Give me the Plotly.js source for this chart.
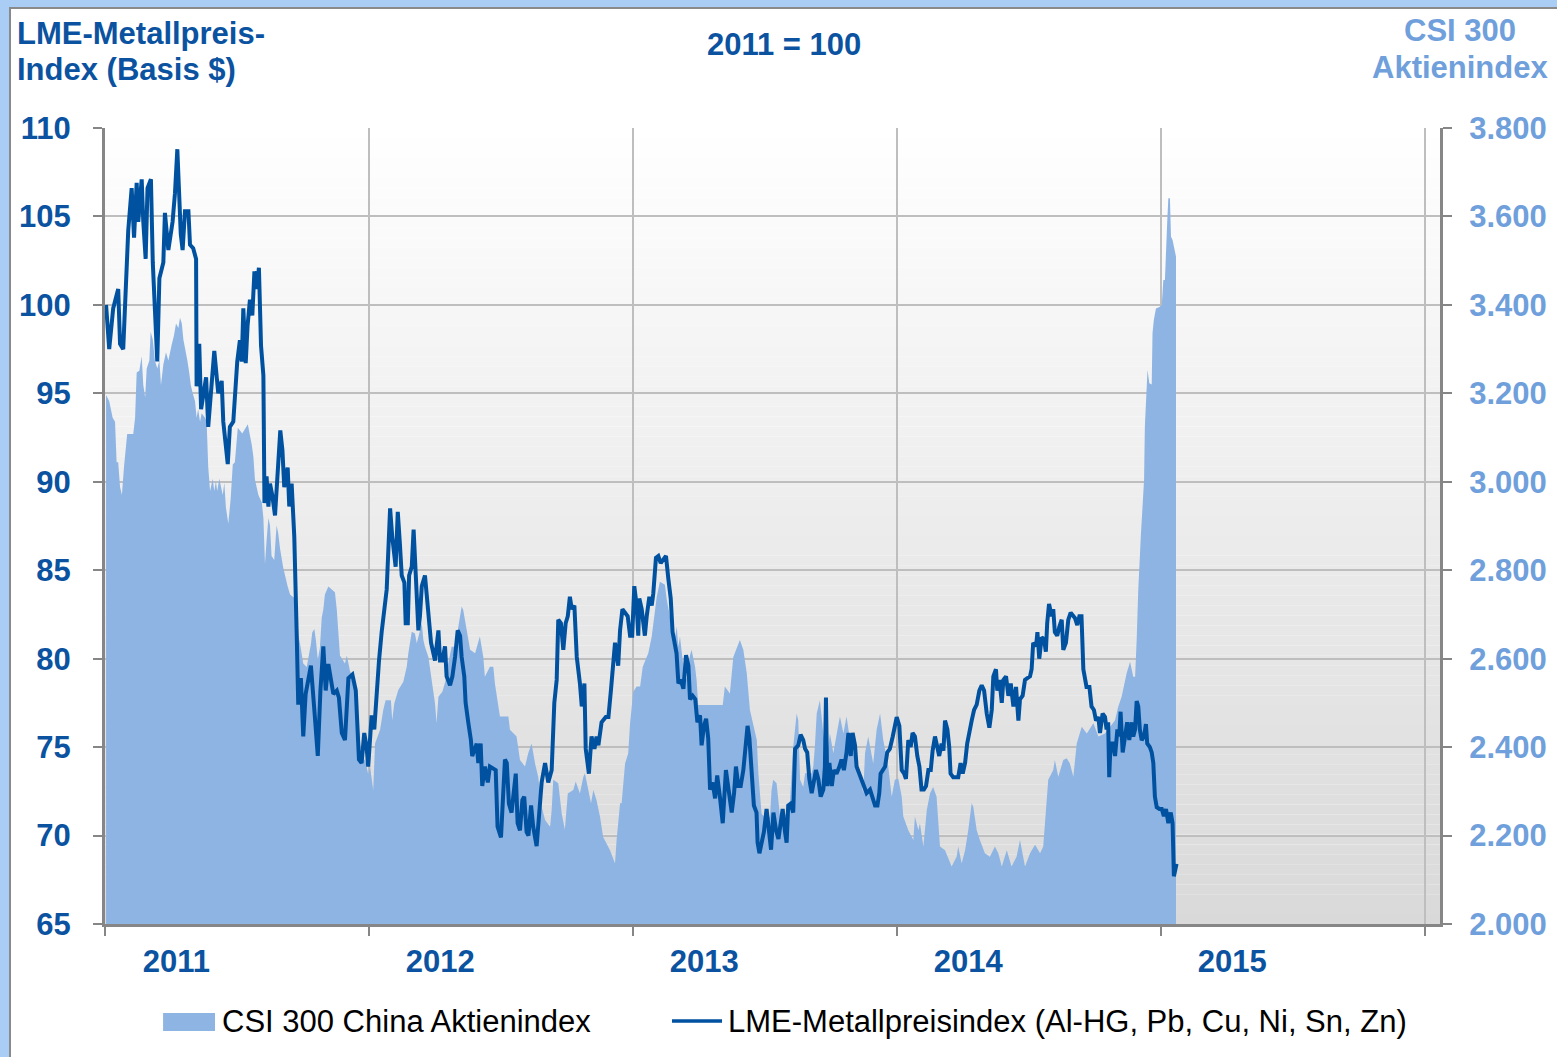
<!DOCTYPE html>
<html><head><meta charset="utf-8">
<script src="https://cdn.plot.ly/plotly-3.0.1.min.js"></script>
<style>
html,body{margin:0;padding:0;width:1557px;height:1057px;overflow:hidden;background:#A9CDF5;}
#frame{position:absolute;left:9px;top:7px;width:1548px;height:1050px;background:#fff;border-left:2px solid #8a8a8a;border-top:2px solid #8a8a8a;box-sizing:border-box;}
#chart{position:absolute;left:0;top:0;width:1557px;height:1057px;}
</style></head><body><div id="frame"></div><div id="chart"></div>
<script>
// Year tick labels and year boundaries
const yearLabels = ['2011','2012','2013','2014','2015'];
const yearStarts = [2011,2012,2013,2014,2015,2016];

// Series names (legend)
const seriesNames = ['CSI 300 China Aktienindex', 'LME-Metallpreisindex (Al-HG, Pb, Cu, Ni, Sn, Zn)'];

// CSI 300 China Aktienindex (right axis) – x in fractional years
const csiX = [2011.004,2011.016,2011.029,2011.038,2011.044,2011.050,2011.057,2011.064,2011.072,2011.080,2011.084,2011.107,2011.114,2011.120,2011.130,2011.139,2011.145,2011.152,2011.158,2011.168,2011.173,2011.181,2011.189,2011.198,2011.206,2011.212,2011.221,2011.231,2011.240,2011.253,2011.261,2011.269,2011.278,2011.284,2011.291,2011.297,2011.307,2011.312,2011.319,2011.325,2011.332,2011.341,2011.347,2011.353,2011.360,2011.366,2011.379,2011.385,2011.391,2011.398,2011.408,2011.414,2011.420,2011.425,2011.433,2011.446,2011.452,2011.458,2011.467,2011.476,2011.484,2011.492,2011.503,2011.520,2011.541,2011.549,2011.556,2011.562,2011.568,2011.581,2011.594,2011.600,2011.606,2011.612,2011.619,2011.625,2011.631,2011.641,2011.650,2011.656,2011.663,2011.675,2011.684,2011.692,2011.701,2011.717,2011.722,2011.730,2011.739,2011.745,2011.751,2011.764,2011.780,2011.785,2011.793,2011.799,2011.806,2011.814,2011.821,2011.827,2011.833,2011.846,2011.871,2011.878,2011.884,2011.890,2011.909,2011.916,2011.928,2011.941,2011.947,2011.953,2011.959,2011.966,2011.972,2011.985,2011.997,2012.004,2012.016,2012.023,2012.042,2012.054,2012.063,2012.083,2012.088,2012.096,2012.111,2012.130,2012.143,2012.149,2012.162,2012.174,2012.181,2012.193,2012.200,2012.206,2012.212,2012.225,2012.238,2012.250,2012.256,2012.263,2012.278,2012.294,2012.300,2012.313,2012.326,2012.338,2012.351,2012.357,2012.370,2012.383,2012.402,2012.420,2012.433,2012.439,2012.458,2012.471,2012.477,2012.490,2012.496,2012.528,2012.534,2012.559,2012.572,2012.591,2012.603,2012.616,2012.629,2012.641,2012.654,2012.667,2012.686,2012.692,2012.698,2012.717,2012.730,2012.742,2012.753,2012.774,2012.783,2012.799,2012.812,2012.818,2012.831,2012.841,2012.850,2012.862,2012.875,2012.887,2012.913,2012.925,2012.932,2012.938,2012.951,2012.957,2012.970,2012.982,2012.989,2013.001,2013.014,2013.027,2013.037,2013.052,2013.058,2013.071,2013.077,2013.090,2013.102,2013.121,2013.128,2013.140,2013.153,2013.166,2013.172,2013.178,2013.191,2013.203,2013.216,2013.222,2013.235,2013.241,2013.247,2013.340,2013.348,2013.367,2013.380,2013.405,2013.418,2013.431,2013.443,2013.456,2013.469,2013.475,2013.481,2013.487,2013.506,2013.519,2013.525,2013.531,2013.544,2013.557,2013.569,2013.582,2013.595,2013.607,2013.620,2013.626,2013.633,2013.645,2013.652,2013.677,2013.683,2013.689,2013.696,2013.708,2013.721,2013.734,2013.746,2013.759,2013.772,2013.784,2013.797,2013.809,2013.822,2013.841,2013.860,2013.872,2013.879,2013.891,2013.910,2013.923,2013.936,2013.948,2013.967,2013.980,2013.992,2014.005,2014.018,2014.024,2014.043,2014.062,2014.068,2014.081,2014.087,2014.100,2014.113,2014.125,2014.137,2014.150,2014.156,2014.163,2014.182,2014.207,2014.226,2014.232,2014.245,2014.258,2014.270,2014.283,2014.289,2014.302,2014.314,2014.333,2014.352,2014.371,2014.384,2014.397,2014.416,2014.434,2014.453,2014.466,2014.485,2014.504,2014.523,2014.542,2014.554,2014.561,2014.567,2014.573,2014.592,2014.598,2014.611,2014.630,2014.643,2014.655,2014.668,2014.681,2014.700,2014.719,2014.744,2014.763,2014.788,2014.807,2014.826,2014.838,2014.851,2014.870,2014.883,2014.895,2014.902,2014.908,2014.914,2014.924,2014.936,2014.939,2014.946,2014.949,2014.956,2014.965,2014.968,2014.973,2014.981,2014.996,2015.003,2015.009,2015.015,2015.019,2015.024,2015.028,2015.034,2015.038,2015.044,2015.049,2015.053,2015.057];
const csiY = [3196,3182,3145,3136,3044,3044,2988,2970,3034,3081,3108,3108,3145,3247,3251,3284,3219,3191,3256,3274,3339,3321,3274,3256,3274,3219,3265,3293,3274,3311,3330,3358,3348,3371,3358,3321,3293,3274,3247,3219,3201,3182,3145,3164,3136,3155,3145,3136,3034,2979,3007,2979,3002,2979,3007,2970,2998,2942,2905,2961,3039,3044,3122,3109,3130,3109,3083,3057,3005,2970,2953,2918,2814,2866,2918,2901,2832,2823,2901,2884,2849,2806,2780,2763,2745,2737,2693,2659,2633,2615,2589,2581,2633,2659,2667,2641,2598,2624,2693,2711,2745,2763,2750,2711,2659,2607,2589,2607,2572,2555,2520,2486,2468,2416,2364,2373,2338,2356,2303,2408,2439,2484,2506,2506,2461,2499,2529,2548,2582,2612,2661,2657,2635,2665,2680,2642,2627,2604,2552,2499,2454,2514,2525,2559,2589,2627,2627,2672,2718,2710,2665,2620,2612,2650,2604,2559,2582,2582,2544,2499,2469,2469,2439,2424,2371,2356,2386,2408,2363,2333,2265,2235,2220,2258,2326,2318,2250,2213,2295,2303,2322,2295,2333,2341,2303,2273,2303,2280,2243,2197,2167,2145,2137,2190,2273,2273,2363,2386,2454,2525,2537,2537,2582,2604,2612,2650,2680,2740,2774,2767,2733,2695,2627,2672,2627,2650,2582,2552,2608,2620,2582,2552,2495,2495,2537,2521,2604,2642,2620,2567,2484,2446,2416,2341,2295,2250,2235,2243,2303,2326,2318,2243,2258,2243,2280,2401,2476,2461,2326,2310,2341,2341,2356,2401,2476,2506,2431,2371,2431,2386,2431,2469,2431,2469,2416,2378,2341,2295,2386,2424,2363,2439,2476,2416,2356,2288,2326,2329,2288,2243,2212,2190,2243,2212,2228,2175,2258,2295,2310,2288,2228,2175,2167,2130,2152,2175,2137,2167,2212,2273,2265,2212,2190,2160,2152,2175,2160,2130,2167,2130,2152,2190,2130,2160,2179,2160,2175,2228,2288,2326,2348,2371,2333,2371,2375,2363,2333,2408,2446,2431,2454,2424,2431,2446,2461,2491,2514,2567,2593,2559,2559,2642,2755,2880,3004,3125,3200,3253,3223,3220,3336,3366,3392,3396,3400,3456,3456,3532,3592,3641,3641,3554,3547,3532,3517,3509];

// LME-Metallpreisindex (left axis, 2011 = 100)
const lmeX = [2011.004,2011.016,2011.031,2011.042,2011.050,2011.057,2011.069,2011.088,2011.101,2011.110,2011.120,2011.126,2011.139,2011.145,2011.154,2011.161,2011.174,2011.181,2011.198,2011.206,2011.221,2011.227,2011.240,2011.256,2011.265,2011.274,2011.287,2011.294,2011.303,2011.316,2011.322,2011.334,2011.345,2011.347,2011.357,2011.364,2011.383,2011.391,2011.414,2011.429,2011.442,2011.448,2011.465,2011.473,2011.486,2011.501,2011.511,2011.518,2011.524,2011.533,2011.540,2011.549,2011.558,2011.566,2011.575,2011.583,2011.591,2011.600,2011.604,2011.612,2011.619,2011.625,2011.634,2011.644,2011.654,2011.664,2011.672,2011.679,2011.692,2011.698,2011.707,2011.717,2011.726,2011.732,2011.742,2011.751,2011.760,2011.770,2011.780,2011.793,2011.806,2011.816,2011.827,2011.836,2011.846,2011.865,2011.878,2011.886,2011.897,2011.909,2011.922,2011.937,2011.950,2011.962,2011.972,2011.982,2011.991,2011.997,2012.010,2012.020,2012.029,2012.038,2012.048,2012.058,2012.067,2012.080,2012.088,2012.101,2012.109,2012.117,2012.124,2012.134,2012.139,2012.147,2012.152,2012.162,2012.169,2012.177,2012.187,2012.193,2012.200,2012.212,2012.225,2012.235,2012.250,2012.263,2012.269,2012.278,2012.288,2012.294,2012.307,2012.316,2012.326,2012.336,2012.345,2012.351,2012.361,2012.366,2012.376,2012.386,2012.391,2012.408,2012.414,2012.423,2012.429,2012.439,2012.450,2012.458,2012.480,2012.487,2012.500,2012.509,2012.515,2012.522,2012.530,2012.540,2012.556,2012.563,2012.572,2012.581,2012.588,2012.597,2012.604,2012.614,2012.622,2012.635,2012.641,2012.654,2012.667,2012.679,2012.692,2012.702,2012.711,2012.717,2012.727,2012.736,2012.745,2012.753,2012.761,2012.768,2012.778,2012.787,2012.799,2012.806,2012.816,2012.821,2012.833,2012.843,2012.854,2012.862,2012.869,2012.881,2012.897,2012.907,2012.917,2012.926,2012.932,2012.944,2012.951,2012.960,2012.980,2012.989,2012.997,2013.005,2013.014,2013.020,2013.024,2013.033,2013.045,2013.052,2013.062,2013.071,2013.077,2013.087,2013.096,2013.105,2013.115,2013.125,2013.134,2013.143,2013.150,2013.159,2013.165,2013.172,2013.181,2013.191,2013.201,2013.210,2013.216,2013.226,2013.236,2013.244,2013.254,2013.260,2013.269,2013.277,2013.285,2013.292,2013.302,2013.311,2013.319,2013.330,2013.340,2013.352,2013.361,2013.374,2013.383,2013.390,2013.399,2013.408,2013.418,2013.427,2013.434,2013.441,2013.450,2013.458,2013.468,2013.472,2013.479,2013.487,2013.496,2013.506,2013.516,2013.523,2013.532,2013.542,2013.551,2013.559,2013.567,2013.576,2013.582,2013.588,2013.597,2013.607,2013.614,2013.626,2013.635,2013.645,2013.652,2013.660,2013.668,2013.677,2013.686,2013.693,2013.702,2013.711,2013.721,2013.727,2013.731,2013.736,2013.744,2013.753,2013.761,2013.771,2013.782,2013.790,2013.799,2013.809,2013.816,2013.825,2013.832,2013.841,2013.847,2013.857,2013.875,2013.885,2013.898,2013.917,2013.926,2013.933,2013.938,2013.955,2013.963,2013.973,2013.984,2013.999,2014.009,2014.018,2014.027,2014.034,2014.043,2014.052,2014.059,2014.068,2014.077,2014.085,2014.093,2014.102,2014.110,2014.119,2014.128,2014.135,2014.144,2014.153,2014.160,2014.169,2014.176,2014.182,2014.191,2014.198,2014.203,2014.213,2014.232,2014.241,2014.249,2014.258,2014.266,2014.283,2014.292,2014.302,2014.312,2014.321,2014.330,2014.340,2014.350,2014.359,2014.365,2014.375,2014.380,2014.388,2014.397,2014.403,2014.413,2014.422,2014.431,2014.441,2014.451,2014.460,2014.466,2014.476,2014.485,2014.494,2014.504,2014.510,2014.516,2014.527,2014.532,2014.539,2014.548,2014.557,2014.564,2014.569,2014.576,2014.586,2014.592,2014.598,2014.607,2014.615,2014.624,2014.630,2014.640,2014.649,2014.658,2014.674,2014.683,2014.691,2014.699,2014.706,2014.712,2014.718,2014.729,2014.737,2014.746,2014.754,2014.763,2014.769,2014.779,2014.788,2014.794,2014.800,2014.804,2014.809,2014.817,2014.826,2014.835,2014.842,2014.847,2014.855,2014.864,2014.872,2014.880,2014.889,2014.895,2014.902,2014.908,2014.914,2014.920,2014.927,2014.936,2014.943,2014.948,2014.958,2014.965,2014.971,2014.977,2014.984,2014.994,2015.003,2015.011,2015.019,2015.028,2015.037,2015.044,2015.049,2015.059];
const lmeY = [100.0,97.5,99.8,100.5,100.9,97.8,97.5,104.2,106.6,103.8,106.9,104.7,107.1,104.7,102.6,106.6,107.1,102.4,96.8,101.5,102.4,105.2,103.1,104.7,106.3,108.8,104.0,103.1,105.3,105.3,103.4,103.2,102.6,95.4,97.8,94.1,95.9,93.1,97.4,95.0,95.7,93.4,91.0,93.1,93.4,96.8,98.0,96.8,99.8,96.7,98.8,100.3,99.4,101.9,100.9,102.1,97.7,96.0,88.8,90.3,88.6,89.9,89.2,88.1,90.5,92.9,91.8,89.7,90.8,88.6,89.9,86.9,81.5,77.4,78.9,75.6,78.0,78.9,79.6,77.1,74.5,78.2,80.7,78.2,79.7,78.0,78.2,77.8,75.8,75.4,78.9,79.1,78.2,74.3,74.1,75.8,75.0,73.9,76.8,76.0,78.4,79.9,81.5,82.8,83.9,88.5,86.9,85.2,88.3,86.5,84.7,84.3,82.0,82.0,84.7,85.2,87.3,84.8,81.6,82.4,84.1,84.7,82.4,80.9,79.9,81.6,79.9,79.9,80.7,79.0,78.5,79.0,80.1,81.6,81.3,80.1,79.0,77.5,76.4,75.4,74.5,75.2,74.1,75.2,72.8,73.9,73.0,73.9,73.7,70.5,69.9,72.6,74.3,74.1,71.8,71.3,73.5,70.7,70.3,72.0,72.2,70.2,70.0,71.7,70.5,69.4,70.7,73.0,74.1,73.0,73.7,77.5,78.8,82.2,82.0,80.5,82.0,82.4,83.5,82.8,83.0,80.1,78.6,77.3,78.6,74.9,73.5,75.6,74.9,75.6,75.1,76.4,76.7,76.7,78.3,79.8,80.9,79.6,81.6,82.8,82.4,81.3,81.3,84.1,83.0,81.3,83.4,82.8,81.3,82.4,83.5,83.0,83.7,85.7,85.8,85.4,85.6,85.8,84.5,83.4,81.5,80.7,80.3,78.6,78.8,78.3,80.2,79.6,77.7,77.9,77.7,76.4,76.8,75.1,76.2,76.6,75.5,72.6,73.0,72.1,73.4,72.1,70.7,73.7,72.8,71.3,72.4,73.9,72.8,72.8,73.7,75.1,76.2,75.5,73.2,71.7,71.3,69.6,69.0,69.6,70.2,71.5,70.2,69.2,71.3,70.3,69.8,70.5,71.5,70.2,69.6,71.7,71.8,71.3,74.9,75.1,75.7,75.4,74.9,74.7,73.2,72.4,73.2,73.7,73.2,72.2,72.6,73.9,77.8,72.8,74.1,72.8,73.7,73.5,73.9,74.3,73.7,74.7,75.8,74.5,75.8,75.1,73.9,73.5,72.8,72.4,72.6,71.7,71.7,72.4,73.5,73.9,74.7,74.9,75.6,76.7,76.2,73.7,73.5,73.2,75.4,75.0,75.8,75.6,74.5,73.9,72.6,72.6,72.8,73.7,73.7,74.8,75.6,74.8,74.5,75.2,74.8,76.5,76.0,75.0,73.5,73.3,73.3,74.1,73.5,74.1,75.2,76.5,77.1,77.4,78.2,78.5,78.2,76.9,76.1,77.1,79.0,79.4,78.2,78.8,77.5,78.8,79.0,77.9,78.6,77.3,78.4,76.5,77.7,77.9,78.8,78.9,79.0,79.4,80.9,80.7,81.5,80.0,81.2,81.1,80.4,82.0,83.1,82.4,82.8,81.5,81.3,81.8,82.2,80.5,80.9,82.2,82.6,82.3,81.9,82.4,82.4,79.4,79.0,78.4,78.4,77.3,77.1,76.5,76.7,75.8,76.9,76.7,76.0,76.4,73.3,75.2,75.2,74.5,76.0,75.6,77.0,74.7,75.6,76.4,75.4,76.4,75.6,76.0,77.6,77.3,76.0,75.4,75.6,76.3,75.2,75.0,74.7,74.1,72.2,71.6,71.5,71.5,71.1,71.5,70.7,71.3,70.7,67.7,68.4];

const darkBlue = '#0B53A0';
const lightBlue = '#6FA0DC';
const areaColor = '#8EB4E3';
const lineColor = '#0052A0';
const fontFam = 'Liberation Sans, Arial, sans-serif';

// Background gradient (white -> light gray) as stacked paper stripes
const shapes = [];
const N = 80;
for (let i = 0; i < N; i++) {
  const t = (i + 0.5) / N;           // 0 at bottom, 1 at top
  const c = Math.round(217 + (255 - 217) * t);
  shapes.push({type:'rect', xref:'paper', yref:'paper', x0:0, x1:1, y0:i/N, y1:(i+1)/N,
    fillcolor:`rgb(${c},${c},${c})`, line:{width:0}, layer:'below'});
}
// Legend swatches (drawn below the plot, in paper coordinates)
shapes.push({type:'rect', xref:'paper', yref:'paper', x0:0.0435, x1:0.0824, y0:-0.1344, y1:-0.1118,
  fillcolor:areaColor, line:{width:0}});
shapes.push({type:'line', xref:'paper', yref:'paper', x0:0.4247, x1:0.4622, y0:-0.1219, y1:-0.1219,
  line:{color:lineColor, width:3.5}});

const traces = [
  {x: csiX, y: csiY, yaxis:'y', type:'scatter', mode:'lines', name:seriesNames[0],
   fill:'tozeroy', fillcolor:areaColor, line:{width:0, color:areaColor}, hoverinfo:'skip', showlegend:false},
  {x: lmeX, y: lmeY, yaxis:'y2', type:'scatter', mode:'lines', name:seriesNames[1],
   line:{width:4, color:lineColor}, hoverinfo:'skip', showlegend:false}
];

const tickFontDark = {family: fontFam, size: 31, color: darkBlue, weight: 'bold'};
const tickFontLight = {family: fontFam, size: 31, color: lightBlue, weight: 'bold'};
const legendFont = {family: fontFam, size: 31, color: '#000'};

const layout = {
  width:1557, height:1057,
  margin:{l:105, r:117, t:128, b:133, pad:0},
  paper_bgcolor:'rgba(0,0,0,0)', plot_bgcolor:'rgba(0,0,0,0)',
  separators:',.',
  showlegend:false,
  xaxis:{range:[2011, 2016.057], tickmode:'array',
    tickvals: yearLabels.map(y => Number(y) + 0.27), ticktext: yearLabels,
    ticks:'', showgrid:false, zeroline:false, showline:true, linecolor:'#868686', linewidth:3,
    tickfont: tickFontDark, ticklabelstandoff: 8,
    minor:{tickmode:'array', tickvals: yearStarts, ticks:'outside', ticklen:9, tickwidth:2, tickcolor:'#868686',
      showgrid:true, gridcolor:'#BEBEBE', gridwidth:2}},
  yaxis:{range:[2000,3800], tickmode:'linear', tick0:2000, dtick:200, side:'right', tickformat:',d',
    ticks:'outside', ticklen:9, tickwidth:2, tickcolor:'#868686',
    showline:true, linecolor:'#868686', linewidth:3, showgrid:true, gridcolor:'#BEBEBE', gridwidth:2,
    zeroline:false, tickfont: tickFontLight, ticklabelstandoff: 11},
  yaxis2:{range:[65,110], tickmode:'linear', tick0:65, dtick:5, side:'left', overlaying:'y',
    ticks:'outside', ticklen:9, tickwidth:2, tickcolor:'#868686',
    showline:true, linecolor:'#868686', linewidth:3, showgrid:false, zeroline:false,
    tickfont: tickFontDark, ticklabelstandoff: 16},
  shapes: shapes,
  annotations:[
    {text:'LME-Metallpreis-', xref:'paper', yref:'paper', x:-0.0675, y:1.1193, xanchor:'left', yanchor:'middle', showarrow:false, font:tickFontDark},
    {text:'Index (Basis $)', xref:'paper', yref:'paper', x:-0.0675, y:1.0741, xanchor:'left', yanchor:'middle', showarrow:false, font:tickFontDark},
    {text:'2011 = 100', xref:'paper', yref:'paper', x:0.5086, y:1.1043, xanchor:'center', yanchor:'middle', showarrow:false, font:tickFontDark},
    {text:'CSI 300', xref:'paper', yref:'paper', x:1.015, y:1.1219, xanchor:'center', yanchor:'middle', showarrow:false, font:tickFontLight},
    {text:'Aktienindex', xref:'paper', yref:'paper', x:1.015, y:1.0766, xanchor:'center', yanchor:'middle', showarrow:false, font:tickFontLight},
    {text:seriesNames[0], xref:'paper', yref:'paper', x:0.0865, y:-0.1219, xanchor:'left', yanchor:'middle', showarrow:false, font:legendFont},
    {text:seriesNames[1], xref:'paper', yref:'paper', x:0.4655, y:-0.1219, xanchor:'left', yanchor:'middle', showarrow:false, font:legendFont}
  ],
  hovermode:false
};

Plotly.newPlot('chart', traces, layout, {displayModeBar:false, staticPlot:true});
</script></body></html>
